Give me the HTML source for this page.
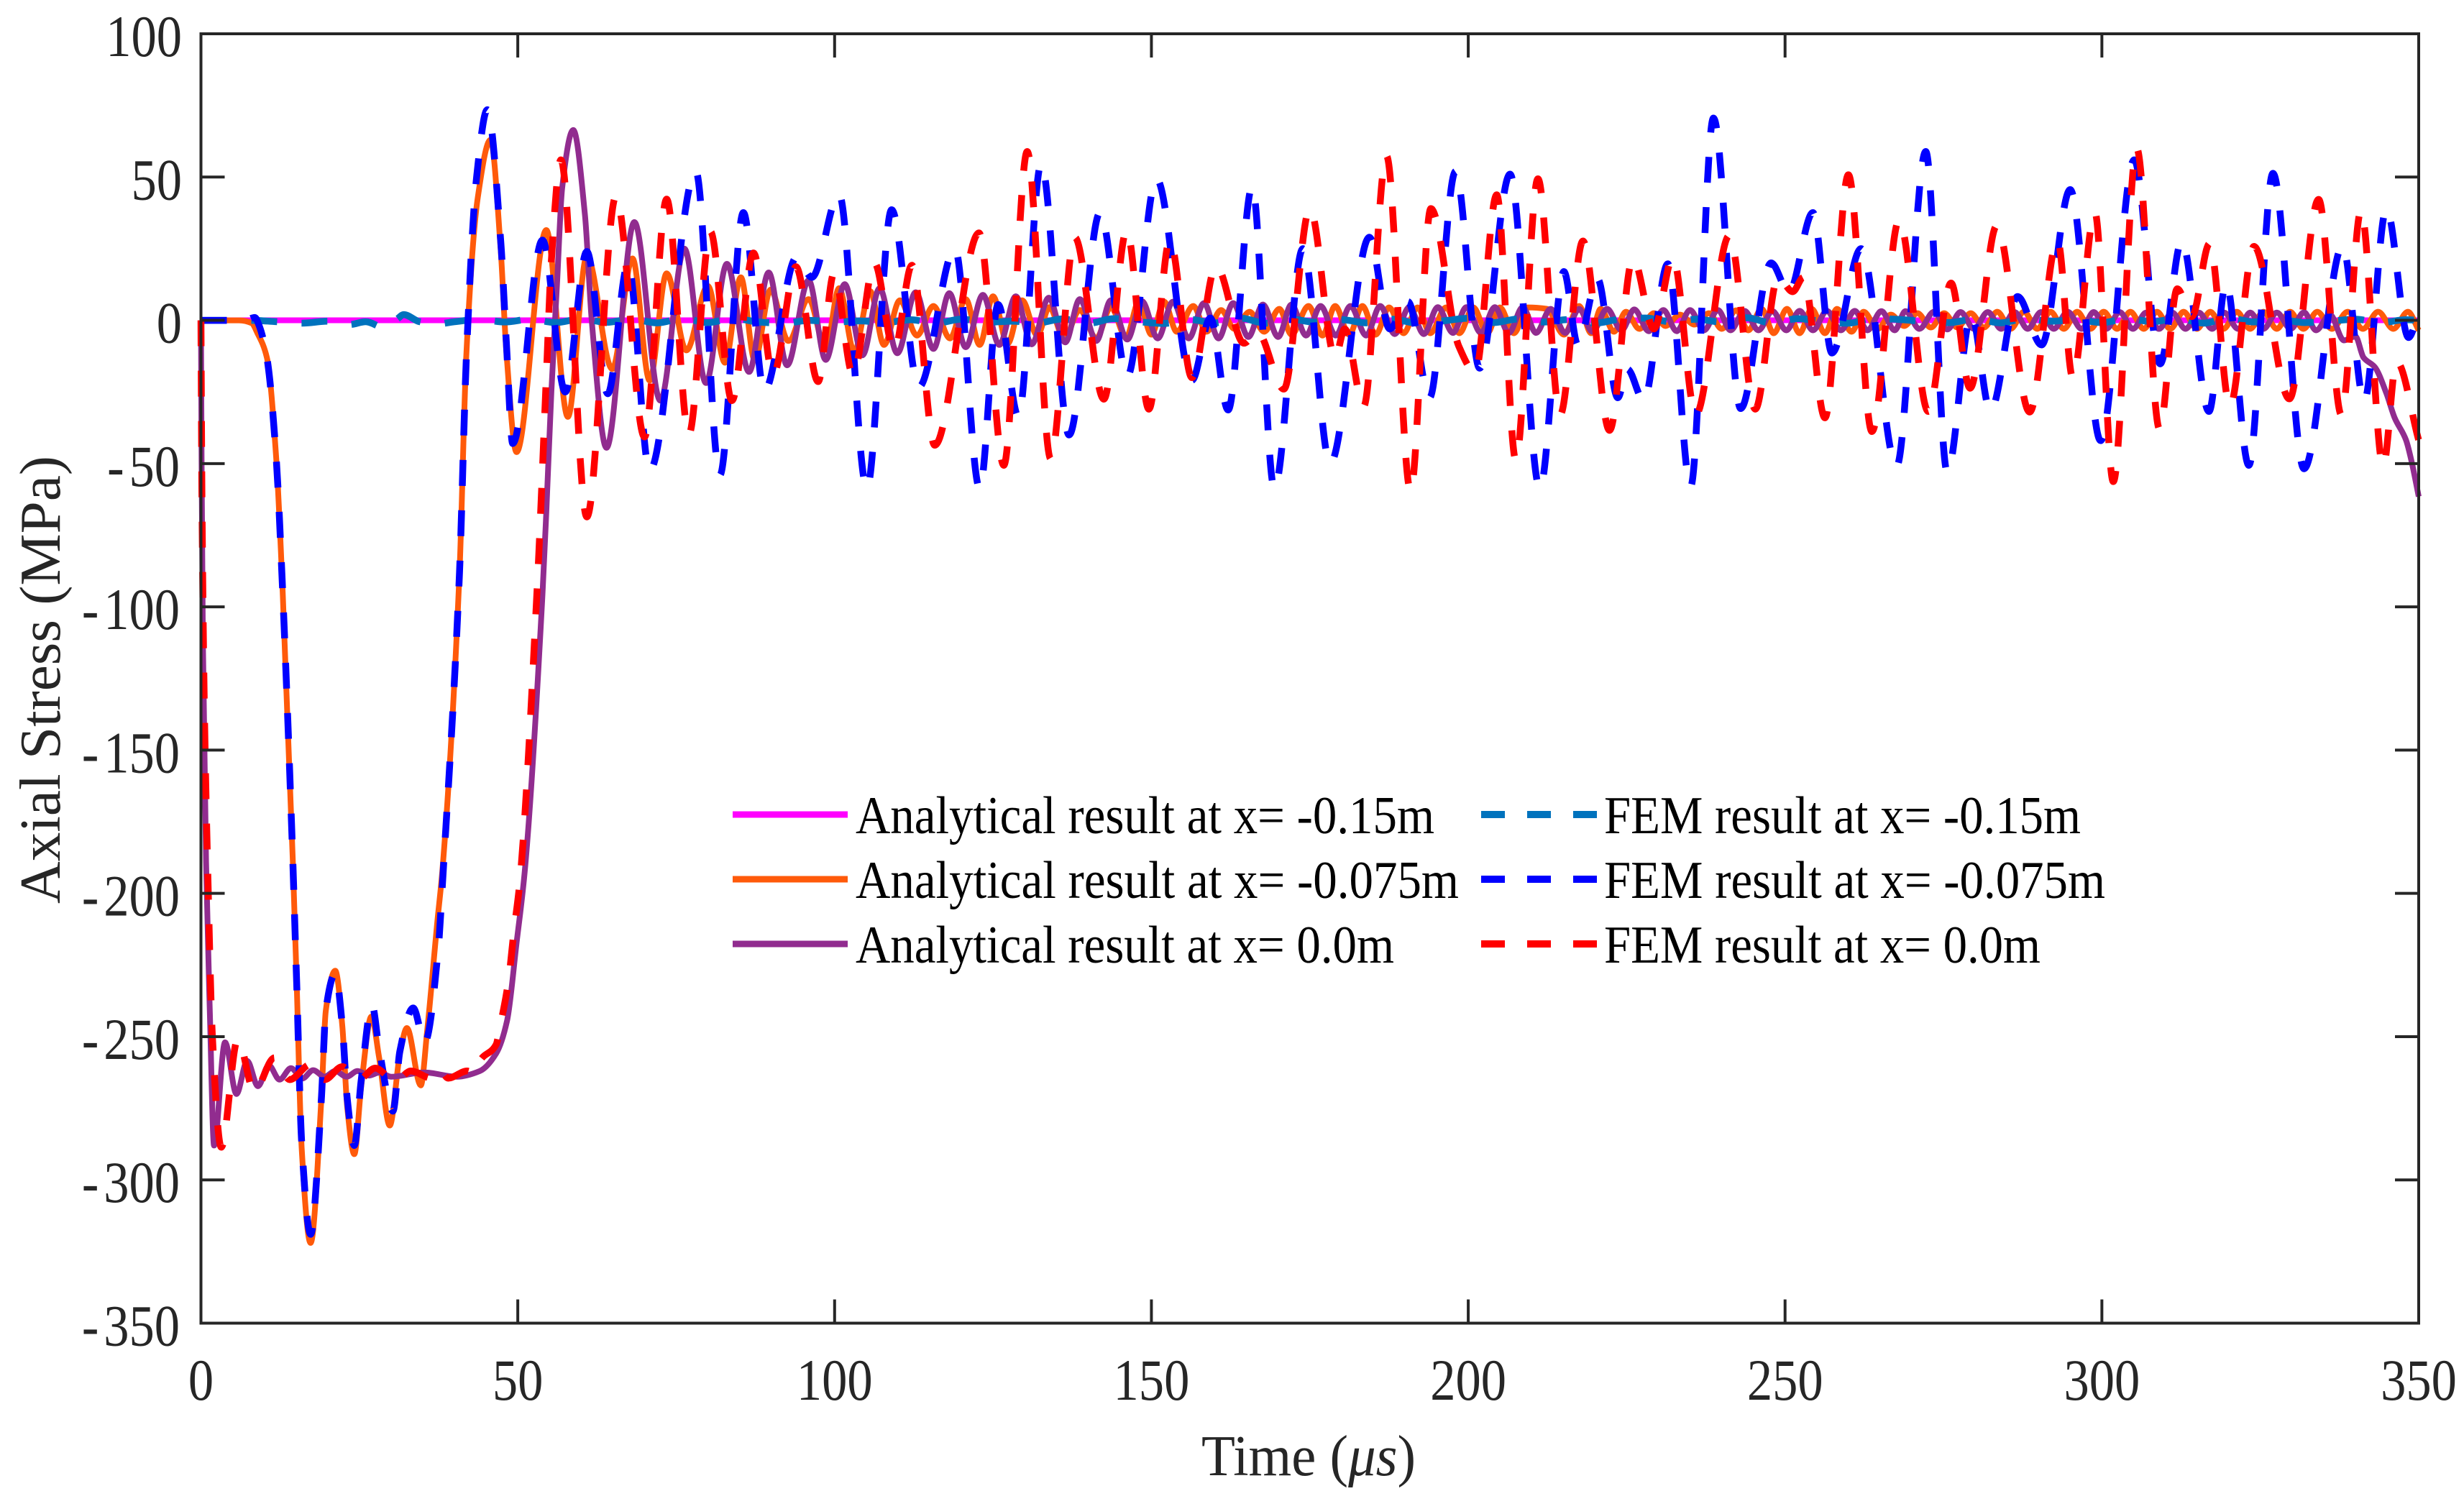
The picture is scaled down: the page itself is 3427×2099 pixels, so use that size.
<!DOCTYPE html>
<html lang="en">
<head>
<meta charset="utf-8">
<title>Axial Stress vs Time</title>
<style>
html,body{margin:0;padding:0;background:#fff;width:3427px;height:2099px;overflow:hidden}
svg{display:block}
text{font-family:"Liberation Serif",serif}
</style>
</head>
<body>
<svg id="chart" xmlns="http://www.w3.org/2000/svg" width="3427" height="2099" viewBox="0 0 3427 2099">
  <rect x="0" y="0" width="3427" height="2099" fill="#fff"/>
  <g id="series-layer"></g>
  <g id="axes-layer"></g>
  <text transform="translate(1671,2052) scale(0.96,1)" font-size="80" fill="#262626">Time (<tspan font-style="italic">μs</tspan>)</text>
  <text transform="translate(83,1257) rotate(-90)" font-size="80" fill="#262626" textLength="623" lengthAdjust="spacingAndGlyphs">Axial Stress (MPa)</text>
  <g>
    <line x1="1019" x2="1179" y1="1133" y2="1133" stroke="#FF00FF" stroke-width="9"/>
    <text x="1190" y="1159" font-size="74" fill="#000" textLength="805" lengthAdjust="spacingAndGlyphs">Analytical result at x= -0.15m</text>
    <line x1="1019" x2="1179" y1="1223" y2="1223" stroke="#FF5A0A" stroke-width="9"/>
    <text x="1190" y="1249" font-size="74" fill="#000" textLength="839" lengthAdjust="spacingAndGlyphs">Analytical result at x= -0.075m</text>
    <line x1="1019" x2="1179" y1="1313" y2="1313" stroke="#912C8F" stroke-width="9"/>
    <text x="1190" y="1339" font-size="74" fill="#000" textLength="749" lengthAdjust="spacingAndGlyphs">Analytical result at x= 0.0m</text>
    <line x1="2060" x2="2221" y1="1133" y2="1133" stroke="#0072BD" stroke-width="10" stroke-dasharray="33 31"/>
    <text x="2231" y="1159" font-size="74" fill="#000" textLength="663" lengthAdjust="spacingAndGlyphs">FEM result at x= -0.15m</text>
    <line x1="2060" x2="2221" y1="1223" y2="1223" stroke="#0000FF" stroke-width="10" stroke-dasharray="33 31"/>
    <text x="2231" y="1249" font-size="74" fill="#000" textLength="697" lengthAdjust="spacingAndGlyphs">FEM result at x= -0.075m</text>
    <line x1="2060" x2="2221" y1="1313" y2="1313" stroke="#FF0000" stroke-width="10" stroke-dasharray="33 31"/>
    <text x="2231" y="1339" font-size="74" fill="#000" textLength="607" lengthAdjust="spacingAndGlyphs">FEM result at x= 0.0m</text>
  </g>
</svg>
<script>
const xTickLabels=[0,50,100,150,200,250,300,350];
const yTickLabels=[100,50,0,-50,-100,-150,-200,-250,-300,-350];

const timeMagenta=[0,350];
const stressMagenta=[0,0];

const timeOrange=[0,6,8,8.9,10.4,11.9,12.9,14.5,15.1,15.9,17.3,19,19.7,21.2,22.3,23.1,24.2,25.3,26.9,28.1,29.8,31.4,32.5,34.7,35.7,37.3,38.1,40.8,41.9,43.7,45.7,47.3,48.2,49.8,54.5,57.9,60.9,64.9,68.1,70.8,73.5,76.6,80,82.7,85.2,87.4,89.9,92.7,95.9,98.6,100.7,103.1,105.6,107.8,110.3,113,115.6,118.2,120.7,122.9,125,127.3,129.6,132,133.9,136.2,138.7,141.3,143.6,146,148,150,152,154,156.6,158.7,161,163.1,165.5,167.8,170.2,172.1,174.8,177,179,181.2,183.3,185.4,187.5,189.8,192,194,196.5,198.6,200.8,203,205,207.2,209.4,212.4,215.1,217.5,219.4,220.9,223,224.9,227,229.3,231.1,233.4,235.7,238,240,242.3,244.2,246.3,248.2,250.3,252.3,254.2,256.3,258.2,260.5,262.4,264.6,266.7,268.8,270.9,273,275.1,277.2,279.3,281.4,283.5,285.6,287.7,289.8,291.9,294,296.1,298.2,300.3,302.4,304.5,306.6,308.7,310.8,312.9,315,317.1,319.2,321.3,323.4,325.5,327.6,329.7,331.8,334,336.3,338.8,341.2,343.6,346,348.3,350];
const stressOrange=[0,0,-1,-4.4,-13,-49,-95,-189,-231,-289,-322,-272,-241,-227,-246,-275,-291,-267,-243,-257,-281,-256,-247,-267,-248,-210,-192,-88,-11,43,63,25,-11,-46,31.5,-33.7,22.5,-17,21.6,-21,16.4,-10.5,12,-14.8,15,-14,10.7,-7.2,7.4,-10,11.2,-11,10.2,-8.6,7,-5.3,5,-6.3,7.4,-8.6,8.4,-8.2,7,-5.3,4.6,-6.3,3.6,-6.3,4.6,-6,6.5,-5,6.5,-4,5,-4,3.6,-3,3,-4,4,-5,5,-5.3,5,-5,5,-5,4.5,-4.5,4.5,-4.5,4.5,-4.5,4.5,-4.5,4.5,-4.5,4.5,4,-5,5,-4.5,4,-4,3,-3,2.5,-2,2,-1.5,2.5,-3,3.5,-3.5,4,-4.5,4,-4.5,4,-4.5,4,-4,3,-3,2,-2,2.5,-2.5,2.5,-2.5,2.5,-2.5,3,-3,3,-3,3,-3,3,-3,3,-3,3,-3,3,-3,3,-3,3,-3,3,-3,3,-3,3,-3,3,-3,3,-3,3,-3,3,-3.5,4,-4.5,4.5,-4.5,4.5,3];

const timePurple=[0,0.1,0.3,0.8,1.4,2.07,3.8,5.6,7.3,9,10.7,12.4,14.2,16,17.7,19.5,21.2,23,24.7,26.5,28.2,30,35.2,40.4,44,46.6,48.3,49.8,51.1,53.9,54.5,55.3,56.2,57,58.75,60.6,61.7,64,68.4,72.5,76.3,79.7,83,86.5,89.6,92.5,95.9,98.6,101.6,104.4,107.1,109.9,112.8,115.6,118.1,120.7,123.4,126,128.6,131.1,133.8,136.4,138.7,141.3,143.6,146.2,148.5,151,153.4,155.9,158.3,160.6,162.9,165.3,167.6,170,172.1,174.4,176.7,179.1,181.4,183.9,186.1,188.4,190.7,193,195.2,197.6,199.7,202,204.2,206.4,208.6,210.7,213,215.3,217.5,219.6,221.9,224.2,226.2,228.5,230.8,232.9,235,237.2,239.4,241.4,243.6,245.8,248,250.2,252.3,254.4,256.6,258.8,261,263,265.2,267.3,269,271.2,273.5,275.6,277.7,279.8,282,284.1,286.2,288.3,290.4,292.4,294.6,296.8,298.7,300.7,302.8,304.9,307,309,311.1,313.2,315.3,317.4,319.3,321.5,323.4,325.5,327.6,329.8,331.9,333.8,336,338.2,340,341.3,343.1,344.9,346.2,348,348.9,350];
const stressPurple=[0,-50,-110,-189,-241,-288,-252,-270,-258.5,-267.3,-260,-265,-261,-264.6,-261.7,-264,-262,-264,-262,-263.6,-262.5,-264,-262.5,-264,-262,-255.8,-244.5,-217.4,-192.4,-95.6,-67,-24.7,13,46,66.4,36.7,-1,-44.5,34.3,-28,25,-21.9,19.7,-18,16.7,-15.7,14,-13.8,12.6,-12.2,11.2,-11.5,9.8,-10,9.5,-9.4,8.9,-8.6,8.4,-8.4,7.9,-7.7,7.4,-7.2,7,-6.7,6.7,-6.3,6.5,-6.3,6,-6.3,6,-5.8,5.5,-5.8,5.5,-5.3,5,-5.3,5,-5.3,5,-4.8,4.6,-4.8,4.6,-4.4,4.6,-4.4,4.6,-4.4,4.6,-4.4,4,-4.4,4,-4,4,-3.5,3.8,-3.8,3.6,-3.8,3.6,-3.5,3.6,-3.5,3.3,-3.5,3.2,-3.5,3.3,-3.5,3.3,-3.5,3.3,-3.5,3.2,-3.5,3.2,-3,3,-3.2,2.9,-3,2.9,-3,2.9,-3,2.9,-3,3,-3,2.9,-3,2.9,-3,2.7,-3,2.7,-3,2.7,-3,2.7,-3,2.7,-3,2.7,-3,2.8,-3.5,2,-7,-5.6,-13,-16.4,-25.5,-34,-41.8,-49.5,-61.5];

const timeTeal=[0,8,12,16,20,23.4,26,28.9,31,32,34.5,37.2,40,44,48,52,56,60,64,68,72,76,80,84,88,92,96,100,104,108,112,116,120,124,128,132,136,140,144,148,152,156,160,164,168,172,176,180,184,188,192,196,200,204,208,212,216,220,224,228,232,236,240,244,248,252,256,260,264,268,272,276,280,284,288,292,296,300,304,308,312,316,320,324,328,332,336,340,344,348,350];
const stressTeal=[0,0,-0.5,-1,-0.3,-1.5,-0.5,-2.5,0.5,2,-0.5,-1.3,-0.5,0.3,-0.6,0.4,-0.8,0.5,-0.7,0.4,-0.9,0.6,-0.8,0.7,-0.6,-1,0,-0.6,-0.2,-0.8,0.2,-1,0.4,-0.7,-0.3,-0.9,0.5,-1.1,0.6,-0.5,-1.1,0.3,-0.9,0.8,-1,0.4,-0.7,0.2,-0.9,0.4,-1,-0.2,0.7,-0.8,0.5,-0.6,0.3,-1,0.4,0.8,-0.5,0.4,-0.6,0.9,-1,0.6,-0.4,-1,0.7,0.3,-0.4,-0.8,0.5,-0.9,0.6,-0.3,0.2,-0.8,0.6,-0.5,0.7,-1,0.8,-0.6,0.3,-0.8,-0.3,0.4,-0.8,0.2,0];

const timeBlue=[0,7,8.5,9.2,10.4,11.9,12.9,14.5,15.1,15.9,17.3,19,19.7,21.2,22.3,23.1,24.2,25.3,27,28.1,30.3,31.4,33.5,35.3,37.5,38.1,40.8,41.9,43.5,45.2,47.3,48.2,49.2,53.9,57.5,60.9,64.2,67.4,70.8,78.1,81.9,85.6,88.9,94,96.4,100.7,105.1,109,113.3,119,122.9,125.8,129,132.6,137,141.9,146.2,150.8,156.4,159.3,162.1,165.9,169.4,173.9,178.2,184.4,187.6,190.5,193.9,198,201.8,206.6,211.3,215.1,217.3,220.4,223.6,225.1,227.7,231.5,235.1,238.7,243,247.8,250.6,254.4,257.4,262,267.6,272.2,275.6,279.4,282.4,286.7,290.5,295,299.8,305.1,309.2,312.6,316.9,319.6,323.2,327,331.9,338,341.4,344.9,348.4,350];
const stressBlue=[0,0,1,-2,-13,-49,-95,-189,-231,-287,-319,-272,-241,-228,-246,-272,-288,-265,-239,-254,-276,-255,-240,-252,-218,-197,-88,-12,50,73.5,28,-8,-43,28,-25,24,-25.6,19.7,-52.5,52,-54,37.6,-24.7,22,15,44,-58.7,38.6,-23.3,25,-58.7,5.5,-33.6,54.6,-40,37.6,-19.5,49.4,-20.9,0.8,-31.3,46.6,-58.7,25,-50,29,-3,6.5,-27,52,-16.7,51,-58.7,17,-8.6,14.5,-27,-17,-28,19.7,-58,70.6,-30.8,20,9.8,37.6,-11.4,25,-51,58.9,-53,1.8,-31.7,8.3,-8.6,45.6,-42,56,-15.2,27.7,-31.8,13,-50.6,51.3,-51.8,26,-28.3,39,-6,3];

const timeRed=[0,0.15,0.5,1.1,1.8,3.2,5.8,8.4,11.6,14,17.3,19.5,22.3,24.9,27.5,30.7,33.1,36.4,37.7,39,42,43.3,44,46.6,47.2,48.5,49.4,50.3,53.1,54.5,55.3,56.8,60.9,65.5,70,73.5,77,80.4,83.8,87.2,90.3,93.9,97.4,99.9,102.9,106.3,109.4,112.2,115.8,122.8,126.7,130.4,134.1,137.9,142.5,146.1,149.6,152.9,156.4,160.2,164.6,166.7,170.9,175,179,180.5,183.5,187.1,190.9,194.1,198.5,201.1,204.5,207.5,211,214.5,218.1,222.3,226,229.3,232.3,235.9,241.2,245.3,248.9,251.2,252.9,256.3,260,263.7,268,272.6,276.2,279.2,283.4,288.6,293,295.4,298.9,301.8,305.5,309.1,311.9,314.2,317,320.2,324,329.6,334.2,337.8,340.9,344.4,346.5,350];
const stressRed=[0,-60,-130,-195,-250,-288.6,-251,-269,-257.4,-265,-259.7,-265,-260.5,-265,-261,-265.6,-262,-264.5,-261.5,-264.5,-262,-263,-258.5,-252.7,-246.5,-231,-213,-196.5,-91.5,-20,21,56,-68.6,43.3,-40.7,42.3,-39.8,31,-28,23.5,-19,18.7,-21.4,16.4,-19,20,-10.5,19.2,-43.6,30.5,-50.6,58.9,-48.3,29,-27.5,31.5,-31,28,-20,19,-8,-4,-24,39,-13,-3,-30,57.4,-59.6,39,-9,-18,43.8,-48.7,49.4,-33,27.7,-38.4,21.6,-3,22,-33,29.6,-31,15,10,15,-34,50.8,-38.8,35,-31.8,13,-23.7,33,-32,28,-20,37.6,-56.3,60,-38,11,1.3,26.8,-30,25.8,-27.4,42.2,-33,38.4,-51,-14.4,-41.8];

const plotLeft=279.5, plotRight=3364, plotTop=47, plotBottom=1840.5;
const tMax=350, vMax=100, vMin=-350;
const SVG_NS='http://www.w3.org/2000/svg';

function xScale(t){return plotLeft+(t/tMax)*(plotRight-plotLeft);}
function yScale(v){return plotTop+((vMax-v)/(vMax-vMin))*(plotBottom-plotTop);}

function smoothPath(ts,vs){
  const n=Math.min(ts.length,vs.length);
  const px=[],py=[];
  for(let i=0;i<n;i++){px.push(xScale(ts[i]));py.push(yScale(vs[i]));}
  if(n<3){return 'M'+px[0]+' '+py[0]+'L'+px[n-1]+' '+py[n-1];}
  const h=[],s=[],m=[];
  for(let i=0;i<n-1;i++){h.push(Math.max(px[i+1]-px[i],0.001));s.push((py[i+1]-py[i])/h[i]);}
  m[0]=s[0];m[n-1]=s[n-2];
  for(let i=1;i<n-1;i++){
    if(s[i-1]*s[i]<=0){m[i]=0;}
    else{const w1=2*h[i]+h[i-1],w2=h[i]+2*h[i-1];m[i]=(w1+w2)/(w1/s[i-1]+w2/s[i]);}
  }
  let d='M'+px[0].toFixed(1)+' '+py[0].toFixed(1);
  for(let i=0;i<n-1;i++){
    const c=h[i]/3;
    d+='C'+(px[i]+c).toFixed(1)+' '+(py[i]+m[i]*c).toFixed(1)+' '+(px[i+1]-c).toFixed(1)+' '+(py[i+1]-m[i+1]*c).toFixed(1)+' '+px[i+1].toFixed(1)+' '+py[i+1].toFixed(1);
  }
  return d;
}

const seriesLayer=document.getElementById('series-layer');
function drawSeries(name,ts,vs,color,width,dash){
  const p=document.createElementNS(SVG_NS,'path');
  
  
  p.setAttribute('d',smoothPath(ts,vs));
  p.setAttribute('fill','none');
  p.setAttribute('stroke',color);
  p.setAttribute('stroke-width',width);
  p.setAttribute('stroke-linejoin','round');
  if(dash){p.setAttribute('stroke-dasharray',dash);}
  seriesLayer.appendChild(p);
}
drawSeries('analytical-series-x-015',timeMagenta,stressMagenta,'#FF00FF',8,null);
drawSeries('analytical-series-x-0075',timeOrange,stressOrange,'#FF5A0A',8,null);
drawSeries('analytical-series-x-00',timePurple,stressPurple,'#912C8F',8,null);
drawSeries('fem-series-x-015',timeTeal,stressTeal,'#0072BD',9.5,'36 34');
drawSeries('fem-series-x-0075',timeBlue,stressBlue,'#0000FF',9.5,'36 34');
drawSeries('fem-series-x-00',timeRed,stressRed,'#FF0000',9.5,'36 34');

const axesLayer=document.getElementById('axes-layer');
function addLine(x1,y1,x2,y2,name){
  const l=document.createElementNS(SVG_NS,'line');
  
  
  l.setAttribute('x1',x1);l.setAttribute('y1',y1);l.setAttribute('x2',x2);l.setAttribute('y2',y2);
  l.setAttribute('stroke','#262626');l.setAttribute('stroke-width','4');
  axesLayer.appendChild(l);
}
function addLabel(text,x,y,anchor,name){
  const t=document.createElementNS(SVG_NS,'text');
  
  
  t.setAttribute('transform','translate('+x+','+y+') scale(0.86,1)');
  t.setAttribute('text-anchor',anchor);
  t.setAttribute('font-size','82');
  t.setAttribute('fill','#262626');
  if(text.charAt(0)==='-'){
    const sign=document.createElementNS(SVG_NS,'tspan');
    sign.textContent='-';
    const digits=document.createElementNS(SVG_NS,'tspan');
    digits.setAttribute('dx','8');
    digits.textContent=text.slice(1);
    t.appendChild(sign);
    t.appendChild(digits);
  }else{
    t.textContent=text;
  }
  axesLayer.appendChild(t);
}
addLine(plotLeft,plotTop,plotRight,plotTop,'top-spine');
addLine(plotLeft,plotBottom,plotRight,plotBottom,'bottom-spine');
addLine(plotLeft,plotTop-2,plotLeft,plotBottom+2,'left-spine');
addLine(plotRight,plotTop-2,plotRight,plotBottom+2,'right-spine');
const tickLen=33;
xTickLabels.forEach(function(t){
  const x=xScale(t);
  addLine(x,plotBottom,x,plotBottom-tickLen,'x-tick-bottom');
  addLine(x,plotTop,x,plotTop+tickLen,'x-tick-top');
  addLabel(String(t),x,1947,'middle','x-tick-label');
});
yTickLabels.forEach(function(v){
  const y=yScale(v);
  addLine(plotLeft,y,plotLeft+tickLen,y,'y-tick-left');
  addLine(plotRight,y,plotRight-tickLen,y,'y-tick-right');
  addLabel(String(v),v<0?250:253,y+31,'end','y-tick-label');
});
</script>
</body>
</html>
